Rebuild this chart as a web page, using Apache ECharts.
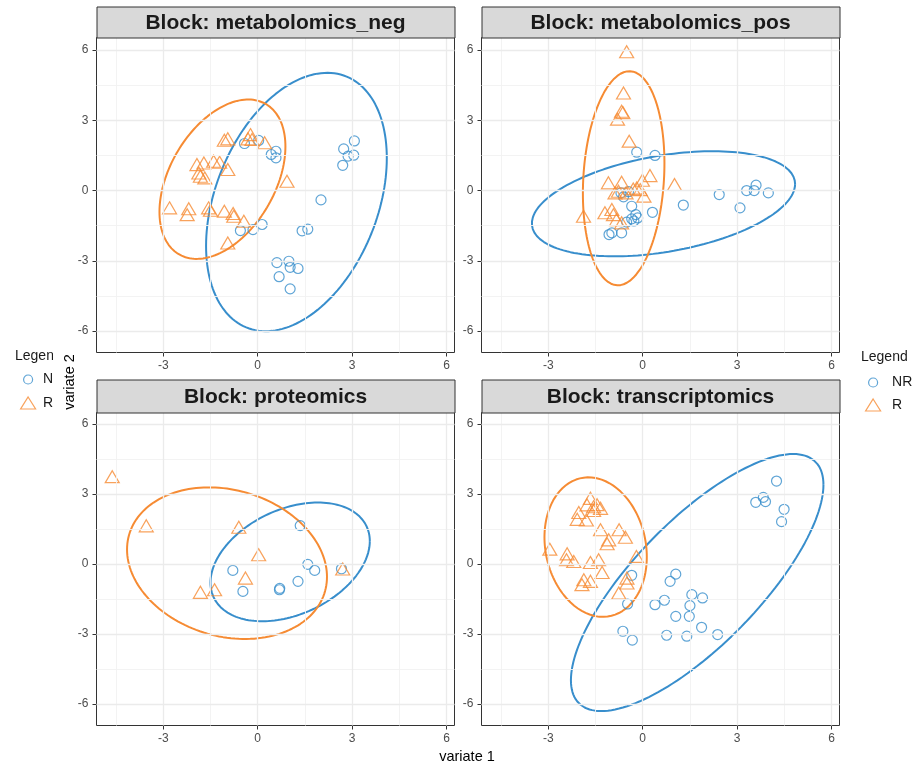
<!DOCTYPE html>
<html>
<head>
<meta charset="utf-8">
<script src="https://cdn.jsdelivr.net/npm/echarts@6/dist/echarts.min.js"></script>
<style>
html, body { margin: 0; padding: 0; background: #ffffff; }
#chart { width: 917px; height: 764px; }
</style>
</head>
<body>
<div id="chart"></div>
<script>
// Sample scores per block: [variate 1, variate 2]
const negNR = [[-0.42,2.01],[0.03,2.14],[0.43,1.54],[0.58,1.68],[0.58,1.40],[2.73,1.78],[3.07,2.12],[2.87,1.47],[3.05,1.51],[2.70,1.08],[2.01,-0.40],[1.41,-1.72],[1.59,-1.65],[-0.55,-1.71],[-0.15,-1.67],[0.14,-1.45],[0.61,-3.08],[0.99,-3.02],[1.03,-3.28],[1.28,-3.33],[0.68,-3.68],[1.03,-4.20]];
const negR = [[-1.06,2.15],[-0.95,2.21],[-0.31,2.21],[-0.23,2.39],[-0.18,2.18],[0.22,2.04],[-1.93,1.11],[-1.71,1.18],[-1.40,1.25],[-1.21,1.21],[-0.95,0.90],[-1.87,0.75],[-1.82,0.61],[-1.68,0.54],[0.93,0.40],[-2.80,-0.74],[-2.19,-0.78],[-2.24,-1.03],[-1.56,-0.74],[-1.50,-0.84],[-1.06,-0.88],[-0.78,-0.98],[-0.76,-1.10],[-0.44,-1.31],[-0.95,-2.24]];
const posNR = [[-0.19,1.64],[0.39,1.50],[-0.69,-0.10],[-0.61,-0.27],[-0.35,-0.67],[0.31,-0.93],[-0.22,-1.03],[-0.16,-1.17],[-0.35,-1.21],[-0.51,-1.35],[-0.67,-1.81],[-0.98,-1.81],[-1.07,-1.88],[1.29,-0.62],[2.43,-0.17],[3.09,-0.74],[3.30,0.00],[3.54,0.00],[3.60,0.23],[3.99,-0.10],[-0.45,-0.05],[-0.28,-1.30]];
const posR = [[-0.51,5.93],[-0.61,4.17],[-0.67,3.39],[-0.63,3.33],[-0.80,3.05],[-0.43,2.11],[0.23,0.64],[-0.01,0.44],[-1.09,0.33],[-0.67,0.36],[-0.19,0.11],[-0.77,-0.03],[-0.53,-0.10],[-0.30,0.07],[0.04,-0.24],[1.01,0.26],[-1.88,-1.10],[-1.20,-0.95],[-0.98,-0.81],[-0.93,-1.03],[-0.83,-1.24],[-0.67,-1.38],[-0.88,-0.10],[-0.08,0.04]];
const protNR = [[1.35,1.65],[-0.79,-0.27],[-0.47,-1.17],[0.70,-1.04],[0.69,-1.10],[1.28,-0.74],[1.59,-0.01],[1.81,-0.27],[2.66,-0.20]];
const protR = [[-4.62,3.75],[-3.54,1.64],[-0.60,1.58],[0.03,0.40],[-0.39,-0.60],[-1.82,-1.21],[-1.37,-1.10],[2.70,-0.21]];
const transNR = [[4.25,3.56],[3.59,2.65],[3.83,2.86],[3.90,2.68],[4.49,2.35],[4.41,1.82],[-0.35,-0.48],[-0.48,-1.71],[0.87,-0.74],[1.05,-0.43],[0.39,-1.74],[0.69,-1.55],[1.56,-1.31],[1.90,-1.45],[1.50,-1.78],[1.05,-2.24],[1.48,-2.24],[0.76,-3.05],[1.40,-3.09],[1.87,-2.71],[2.38,-3.02],[-0.63,-2.88],[-0.33,-3.26]];
const transR = [[-1.66,2.82],[-1.77,2.54],[-1.56,2.46],[-1.34,2.39],[-2.03,2.21],[-2.08,1.92],[-1.79,1.89],[-1.34,1.47],[-0.75,1.47],[-0.55,1.15],[-1.08,1.04],[-1.13,0.87],[-2.95,0.64],[-2.40,0.44],[-2.42,0.19],[-2.19,0.11],[-1.66,0.07],[-1.40,0.19],[-1.29,-0.36],[-0.20,0.33],[-1.87,-0.67],[-1.66,-0.74],[-1.93,-0.88],[-0.50,-0.60],[-0.50,-0.81],[-0.76,-1.24],[-1.56,2.30],[-1.45,2.55]];

// Confidence ellipses: [centre x, centre y, half-width x, half-height y, correlation]
const negNREllipse = [1.23, -0.49, 2.87, 5.52, 0.34];
const negREllipse = [-1.12, 0.485, 2.0, 3.405, 0.41];
const posNREllipse = [0.66, -0.565, 4.18, 2.245, 0.375];
const posREllipse = [-0.605, 0.525, 1.295, 4.575, 0.14];
const protNREllipse = [1.03, 0.095, 2.53, 2.545, 0.35];
const protREllipse = [-0.975, 0.04, 3.175, 3.25, -0.18];
const transNREllipse = [1.73, -0.79, 4.01, 5.51, 0.76];
const transREllipse = [-1.495, 0.73, 1.625, 2.99, -0.14];

const blockNames = ['Block: metabolomics_neg', 'Block: metabolomics_pos', 'Block: proteomics', 'Block: transcriptomics'];
const groupNames = ['NR', 'R'];
const xTicks = [-3, 0, 3, 6];
const yTicks = [-6, -3, 0, 3, 6];
const xMinor = [-4.5, -1.5, 1.5, 4.5];
const yMinor = [-4.5, -1.5, 1.5, 4.5];

const blockNR = [negNR, posNR, protNR, transNR];
const blockR = [negR, posR, protR, transR];
const ellNR = [negNREllipse, posNREllipse, protNREllipse, transNREllipse];
const ellR = [negREllipse, posREllipse, protREllipse, transREllipse];

const COL_NR = '#388ECC';
const COL_R = '#F68B33';
const FONT = '"Liberation Sans", Arial, sans-serif';

// panel layout
const panelLeft = [96.5, 481.5, 96.5, 481.5];
const panelTop = [37.5, 37.5, 412.5, 412.5];
const panelW = 358;
const panelH = [315, 315, 313, 313];
const stripTop = [6.5, 6.5, 379.5, 379.5];
const xRange = [-5.12, 6.25];
const yRanges = [[-6.92, 6.54], [-6.92, 6.54], [-6.92, 6.5], [-6.92, 6.5]];

function ellipsePath(p) {
  const [cx, cy, rx, ry, r] = p;
  const s = Math.sqrt(1 - r * r);
  const pts = [];
  for (let i = 0; i <= 160; i++) {
    const t = (i / 160) * Math.PI * 2;
    pts.push([cx + rx * Math.cos(t), cy + ry * (r * Math.cos(t) + s * Math.sin(t))]);
  }
  return pts;
}

const grids = [], xAxes = [], yAxes = [], series = [], graphics = [];

for (let k = 0; k < 4; k++) {
  grids.push({
    left: panelLeft[k], top: panelTop[k], width: panelW, height: panelH[k],
    show: true, backgroundColor: '#ffffff', borderColor: '#333333', borderWidth: 1
  });
  xAxes.push({
    gridIndex: k, type: 'value', min: xRange[0], max: xRange[1],
    axisLine: { show: false, onZero: false },
    axisTick: { show: true, customValues: xTicks, length: 4, lineStyle: { color: '#333333', width: 1 } },
    axisLabel: { customValues: xTicks, color: '#4D4D4D', fontSize: 12, margin: 7, fontFamily: FONT },
    splitLine: { show: false }
  });
  yAxes.push({
    gridIndex: k, type: 'value', min: yRanges[k][0], max: yRanges[k][1],
    axisLine: { show: false, onZero: false },
    axisTick: { show: true, customValues: yTicks, length: 4, lineStyle: { color: '#333333', width: 1 } },
    axisLabel: { customValues: yTicks, color: '#4D4D4D', fontSize: 12, margin: 8, fontFamily: FONT },
    splitLine: { show: false }
  });

  // panel grid lines
  const major = { color: '#EBEBEB', width: 1.3, type: 'solid' };
  const minor = { color: '#F2F2F2', width: 0.9, type: 'solid' };
  const lines = [];
  xMinor.forEach(v => lines.push({ xAxis: v, lineStyle: minor }));
  yMinor.forEach(v => lines.push({ yAxis: v, lineStyle: minor }));
  xTicks.forEach(v => lines.push({ xAxis: v, lineStyle: major }));
  yTicks.forEach(v => lines.push({ yAxis: v, lineStyle: major }));
  series.push({
    name: 'grid' + k, type: 'scatter', xAxisIndex: k, yAxisIndex: k, data: [], z: 1, silent: true,
    markLine: { silent: true, symbol: ['none', 'none'], label: { show: false }, animation: false, data: lines }
  });

  // ellipses
  series.push({
    name: 'ellipse NR ' + k, type: 'line', xAxisIndex: k, yAxisIndex: k, data: ellipsePath(ellNR[k]),
    showSymbol: false, symbol: 'none', silent: true, z: 3,
    lineStyle: { color: COL_NR, width: 2 }
  });
  series.push({
    name: 'ellipse R ' + k, type: 'line', xAxisIndex: k, yAxisIndex: k, data: ellipsePath(ellR[k]),
    showSymbol: false, symbol: 'none', silent: true, z: 3,
    lineStyle: { color: COL_R, width: 2 }
  });

  // samples
  series.push({
    name: groupNames[0], type: 'scatter', xAxisIndex: k, yAxisIndex: k, data: blockNR[k],
    symbol: 'circle', symbolSize: 10, z: 4,
    itemStyle: { color: 'rgba(0,0,0,0)', borderColor: COL_NR, borderWidth: 1.2, opacity: 0.8 }
  });
  series.push({
    name: groupNames[1], type: 'scatter', xAxisIndex: k, yAxisIndex: k, data: blockR[k],
    symbol: 'triangle', symbolSize: [14, 12], z: 4,
    itemStyle: { color: 'rgba(0,0,0,0)', borderColor: COL_R, borderWidth: 1.2, opacity: 0.8 }
  });

  // facet strip
  graphics.push({
    type: 'rect', left: panelLeft[k], top: stripTop[k], z: 10,
    shape: { width: panelW, height: panelTop[k] - stripTop[k] },
    style: { fill: '#D9D9D9', stroke: '#333333', lineWidth: 1 }
  });
  graphics.push({
    type: 'text', x: panelLeft[k] + panelW / 2, y: (stripTop[k] + panelTop[k]) / 2 + 1, z: 11,
    style: { text: blockNames[k], font: 'bold 21px ' + FONT, fill: '#1A1A1A', align: 'center', verticalAlign: 'middle' }
  });
}

// clipped legend block on the left edge
graphics.push({
  type: 'rect', left: 53, top: 340, z: 20,
  shape: { width: 43, height: 76 },
  style: { fill: '#ffffff' }
});
graphics.push({
  type: 'text', x: 15, y: 356, z: 5,
  style: { text: 'Legend', font: '14px ' + FONT, fill: '#1A1A1A', align: 'left', verticalAlign: 'middle' }
});
graphics.push({
  type: 'text', x: 861, y: 357, z: 5,
  style: { text: 'Legend', font: '14px ' + FONT, fill: '#1A1A1A', align: 'left', verticalAlign: 'middle' }
});
// axis titles
graphics.push({
  type: 'text', x: 70, y: 382, rotation: Math.PI / 2, z: 21,
  style: { text: 'variate 2', font: '14.5px ' + FONT, fill: '#000000', align: 'center', verticalAlign: 'middle' }
});
graphics.push({
  type: 'text', x: 467, y: 757, z: 21,
  style: { text: 'variate 1', font: '14.5px ' + FONT, fill: '#000000', align: 'center', verticalAlign: 'middle' }
});

const triIcon = 'path://M7.5,0 L15,12 L0,12 Z';
function legendItem(name, icon, color, left, top, w, h) {
  return {
    orient: 'vertical', left: left, top: top, padding: 5, itemWidth: w, itemHeight: h,
    selectedMode: false, symbolKeepAspect: true,
    textStyle: { fontSize: 14, color: '#1A1A1A', fontFamily: FONT },
    data: [{ name: name, icon: icon, itemStyle: { color: 'rgba(0,0,0,0)', borderColor: color, borderWidth: 1.2 } }]
  };
}
const legends = [
  legendItem('NR', 'circle', COL_NR, 863, 370.5, 28, 9),
  legendItem('R', triIcon, COL_R, 860, 393, 28, 12),
  legendItem('NR', 'circle', COL_NR, 18, 367.5, 20, 9),
  legendItem('R', triIcon, COL_R, 15, 391, 20, 12)
];

const chart = echarts.init(document.getElementById('chart'), null, { renderer: 'canvas' });
chart.setOption({
  animation: false,
  backgroundColor: '#ffffff',
  textStyle: { fontFamily: FONT },
  grid: grids,
  xAxis: xAxes,
  yAxis: yAxes,
  legend: legends,
  series: series,
  graphic: graphics
});
</script>
</body>
</html>
